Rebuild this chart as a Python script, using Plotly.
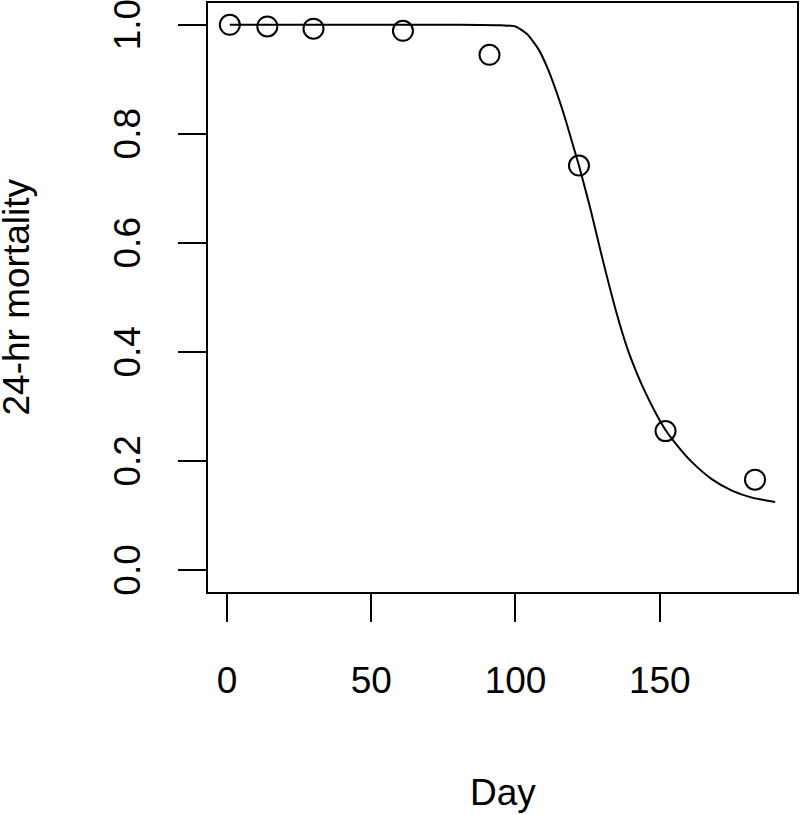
import plotly.graph_objects as go

# Observed data (day, 24-hr mortality)
days = [1, 14, 30, 61, 91, 122, 152, 183]
mortality = [1.0, 0.997, 0.993, 0.989, 0.945, 0.742, 0.255, 0.166]

# Fitted curve
curve_day = [1, 20, 40, 60, 80, 95, 100, 104, 108, 111, 114, 117, 120, 122, 126, 130,
             135, 139, 142, 145, 149, 152, 156, 161, 168, 175, 182, 190]
curve_mort = [1.0, 1.0, 1.0, 1.0, 1.0, 0.999, 0.997, 0.983, 0.955, 0.922, 0.880, 0.832,
              0.778, 0.742, 0.662, 0.574, 0.472, 0.403, 0.362, 0.326, 0.284, 0.257,
              0.229, 0.199, 0.167, 0.146, 0.133, 0.125]

x_ticks = [0, 50, 100, 150]
y_ticks = [0.0, 0.2, 0.4, 0.6, 0.8, 1.0]
y_tick_text = ["0.0", "0.2", "0.4", "0.6", "0.8", "1.0"]
x_title = "Day"
y_title = "24-hr mortality"

FONT = "Liberation Sans, Arial, Helvetica, sans-serif"
FS = 37

fig = go.Figure()
fig.add_trace(go.Scatter(x=curve_day, y=curve_mort, mode="lines",
                         line=dict(color="black", width=2, shape="spline", smoothing=0.6),
                         hoverinfo="skip", showlegend=False))
fig.add_trace(go.Scatter(x=days, y=mortality, mode="markers",
                         marker=dict(symbol="circle-open", size=20, color="black",
                                     line=dict(width=2, color="black")),
                         showlegend=False))

x_lo, x_hi = 1, 190
xpad = 0.04 * (x_hi - x_lo)
fig.update_xaxes(range=[x_lo - xpad, x_hi + xpad], showgrid=False, zeroline=False,
                 showline=True, mirror=True, linecolor="black", linewidth=2,
                 ticks="outside", ticklen=28, tickwidth=2, tickcolor="black",
                 tickvals=x_ticks, ticktext=[str(v) for v in x_ticks],
                 tickfont=dict(family=FONT, size=FS, color="black"),
                 ticklabelstandoff=27)
fig.update_yaxes(range=[-0.04, 1.04], showgrid=False, zeroline=False,
                 showline=True, mirror=True, linecolor="black", linewidth=2,
                 ticks="outside", ticklen=28, tickwidth=2, tickcolor="black",
                 tickvals=y_ticks, showticklabels=False)

for v, t in zip(y_ticks, y_tick_text):
    fig.add_annotation(text=t, xref="paper", yref="y", x=0, y=v, xanchor="center",
                       yanchor="middle", xshift=-80.5, showarrow=False, textangle=-90,
                       font=dict(family=FONT, size=FS, color="black"))

fig.add_annotation(text=x_title, xref="paper", yref="paper", x=0.5, y=0,
                   xanchor="center", yanchor="middle", yshift=-200, showarrow=False,
                   font=dict(family=FONT, size=FS, color="black"))
fig.add_annotation(text=y_title, xref="paper", yref="paper", x=0, y=0.5,
                   xanchor="center", yanchor="middle", xshift=-192, showarrow=False,
                   textangle=-90, font=dict(family=FONT, size=FS, color="black"))

fig.update_layout(width=800, height=815, paper_bgcolor="white", plot_bgcolor="white",
                  margin=dict(l=208, r=3.3, t=3.3, b=222.5, autoexpand=False),
                  font=dict(family=FONT, size=FS, color="black"))

fig.write_html("out.html", config={"displayModeBar": False},
               post_script="document.body.style.margin='0px';")
